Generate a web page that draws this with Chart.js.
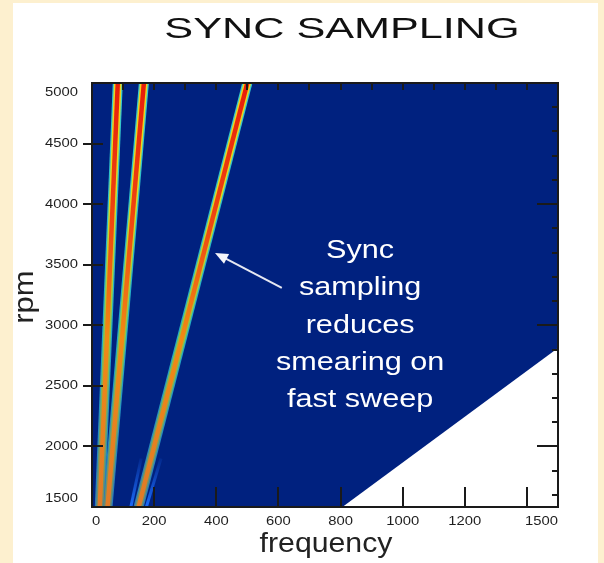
<!DOCTYPE html>
<html>
<head>
<meta charset="utf-8">
<script src="https://cdn.jsdelivr.net/npm/chart.js@4/dist/chart.umd.min.js"></script>
<style>
  html, body { margin: 0; padding: 0; background: #fdf0cf; width: 604px; height: 563px; overflow: hidden; }
  #panel { position: absolute; left: 13px; top: 3px; width: 585px; height: 560px; background: #fff; }
  canvas { display: block; }
</style>
</head>
<body>
<div id="panel"><canvas id="chart" width="585" height="560"></canvas></div>
<script>
// values
const rpmEnds = [1500, 5000];
const order1Freq = [25, 83];
const order2Freq = [50, 167];
const order6Freq = [150, 500];
const faintRpm = [1500, 1900];
const order5Freq = [125, 158];
const order7Freq = [175, 222];
const limitFreq = [0, 806, 1500];
const limitRpm = [1500, 1500, 2812];

const xTickLabels = [0, 200, 400, 600, 800, 1000, 1200, 1500];
const xMajorTicks = [200, 400, 600, 800, 1000, 1200, 1400];
const topMinorTicks = [100, 200, 300, 400, 500, 600, 700, 800, 900, 1000, 1100, 1200, 1300, 1400];
const yTickLabels = [1500, 2000, 2500, 3000, 3500, 4000, 4500, 5000];
const yMajorTicks = [2000, 2500, 3000, 3500, 4000, 4500];
const rightMinorTicks = [1600, 1800, 2000, 2200, 2400, 2600, 2800, 3000, 3200, 3400, 3600, 3800, 4000, 4200, 4400, 4600, 4800];
const rightMajorTicks = [2000, 3000, 4000];

const noteLines = ['Sync', 'sampling', 'reduces', 'smearing on', 'fast sweep'];
const noteAt = { x: 863, y: 3556 };
const arrowFrom = { x: 611, y: 3309 };
const arrowTo = { x: 396, y: 3597 };

function pts(xs, ys) {
  return xs.map((x, i) => ({ x: x, y: ys[i] }));
}

function vGrad(stops) {
  return function(context) {
    const ca = context.chart.chartArea;
    if (!ca) return stops[stops.length - 1][1];
    const g = context.chart.ctx.createLinearGradient(0, ca.bottom, 0, ca.top);
    stops.forEach(s => g.addColorStop(s[0], s[1]));
    return g;
  };
}

const edgeColor = vGrad([[0, '#2a78b8'], [0.4, '#22aac4'], [1, '#38cccc']]);
const midColor = vGrad([[0, '#6a8a70'], [0.4, '#8cc448'], [0.75, '#e0dc20'], [1, '#f4d018']]);
const coreColor = vGrad([[0, '#e07a28'], [0.4, '#f08a14'], [0.65, '#f04a10'], [1, '#e81c0a']]);
const faintColor = vGrad([[0, 'rgba(30,110,255,0.95)'], [0.13, 'rgba(30,110,255,0)'], [1, 'rgba(30,110,255,0)']]);

const orderSets = [order1Freq, order2Freq, order6Freq];
const layers = [
  { w: 10, c: edgeColor, o: 30 },
  { w: 7.5, c: midColor, o: 20 },
  { w: 4.5, c: coreColor, o: 10 }
];

const datasets = [{
  label: 'range',
  data: pts(limitFreq, limitRpm),
  borderWidth: 0,
  pointRadius: 0,
  backgroundColor: '#00217f',
  fill: 'end',
  order: 100
}];

[order5Freq, order7Freq].forEach(f => {
  datasets.push({
    data: pts(f, faintRpm),
    borderColor: faintColor,
    borderWidth: 3,
    pointRadius: 0,
    fill: false,
    order: 50
  });
});

layers.forEach(l => {
  orderSets.forEach(f => {
    datasets.push({
      data: pts(f, rpmEnds),
      borderColor: l.c,
      borderWidth: l.w,
      pointRadius: 0,
      fill: false,
      order: l.o
    });
  });
});

function stretchText(ctx, text, x, y, sx, align) {
  ctx.save();
  ctx.translate(x, y);
  ctx.scale(sx, 1);
  ctx.textAlign = align;
  ctx.fillText(text, 0, 0);
  ctx.restore();
}

const decor = {
  id: 'decor',
  afterDatasetsDraw(chart) {
    const ctx = chart.ctx;
    const ca = chart.chartArea;
    const xs = chart.scales.x, ys = chart.scales.y;

    // note arrow
    const fx = xs.getPixelForValue(arrowFrom.x), fy = ys.getPixelForValue(arrowFrom.y);
    const tx = xs.getPixelForValue(arrowTo.x), ty = ys.getPixelForValue(arrowTo.y);
    const ang = Math.atan2(ty - fy, tx - fx);
    ctx.save();
    ctx.strokeStyle = '#e6e8f2';
    ctx.fillStyle = '#f4f5fa';
    ctx.lineWidth = 2;
    ctx.beginPath();
    ctx.moveTo(fx, fy);
    ctx.lineTo(tx - 10 * Math.cos(ang), ty - 10 * Math.sin(ang));
    ctx.stroke();
    ctx.beginPath();
    ctx.moveTo(tx, ty);
    ctx.lineTo(tx - 13 * Math.cos(ang) + 5.5 * Math.sin(ang), ty - 13 * Math.sin(ang) - 5.5 * Math.cos(ang));
    ctx.lineTo(tx - 13 * Math.cos(ang) - 5.5 * Math.sin(ang), ty - 13 * Math.sin(ang) + 5.5 * Math.cos(ang));
    ctx.closePath();
    ctx.fill();

    // note text
    ctx.fillStyle = '#ffffff';
    ctx.font = '25.5px "Liberation Sans", Arial, sans-serif';
    ctx.textBaseline = 'alphabetic';
    const nx = xs.getPixelForValue(noteAt.x), ny = ys.getPixelForValue(noteAt.y);
    noteLines.forEach((t, i) => stretchText(ctx, t, nx, ny + i * 37.3, 1.2, 'center'));
    ctx.restore();

    // frame and ticks
    ctx.save();
    ctx.strokeStyle = '#1a1a1a';
    ctx.lineWidth = 2;
    ctx.strokeRect(ca.left, ca.top, ca.right - ca.left, ca.bottom - ca.top);
    ctx.beginPath();
    yMajorTicks.forEach(v => {
      const p = Math.round(ys.getPixelForValue(v));
      ctx.moveTo(ca.left - 9, p); ctx.lineTo(ca.left + 11, p);
    });
    xMajorTicks.forEach(v => {
      const p = Math.round(xs.getPixelForValue(v));
      ctx.moveTo(p, ca.bottom); ctx.lineTo(p, ca.bottom - 20);
    });
    topMinorTicks.forEach(v => {
      const p = Math.round(xs.getPixelForValue(v));
      ctx.moveTo(p, ca.top); ctx.lineTo(p, ca.top + 7);
    });
    rightMinorTicks.forEach(v => {
      const p = Math.round(ys.getPixelForValue(v));
      const len = rightMajorTicks.includes(v) ? 21 : 6;
      ctx.moveTo(ca.right, p); ctx.lineTo(ca.right - len, p);
    });
    ctx.stroke();

    // tick labels
    ctx.fillStyle = '#1e1e1e';
    ctx.font = '13px "Liberation Sans", Arial, sans-serif';
    ctx.textBaseline = 'middle';
    yTickLabels.forEach((v, i) => {
      let p = ys.getPixelForValue(v);
      if (i === 0) p -= 9;
      if (i === yTickLabels.length - 1) p += 9;
      stretchText(ctx, String(v), ca.left - 14, p, 1.14, 'right');
    });
    xTickLabels.forEach((v, i) => {
      const p = xs.getPixelForValue(v);
      let align = 'center';
      if (i === 0) align = 'left';
      if (i === xTickLabels.length - 1) align = 'right';
      stretchText(ctx, String(v), p, ca.bottom + 14, 1.14, align);
    });
    ctx.restore();
  },
  afterDraw(chart) {
    const ctx = chart.ctx;
    ctx.save();
    ctx.fillStyle = '#111';
    ctx.textBaseline = 'alphabetic';
    ctx.font = '30px "Liberation Sans", Arial, sans-serif';
    stretchText(ctx, 'SYNC SAMPLING', 329, 35, 1.44, 'center');
    ctx.fillStyle = '#222';
    ctx.font = '27px "Liberation Sans", Arial, sans-serif';
    stretchText(ctx, 'frequency', 313, 549, 1.12, 'center');
    ctx.save();
    ctx.translate(13, 294);
    ctx.rotate(-Math.PI / 2);
    ctx.textBaseline = 'middle';
    stretchText(ctx, 'rpm', 0, 0, 1.15, 'center');
    ctx.restore();
    ctx.restore();
  }
};

new Chart(document.getElementById('chart'), {
  type: 'line',
  data: { datasets: datasets },
  plugins: [decor],
  options: {
    responsive: false,
    animation: false,
    devicePixelRatio: 1,
    layout: { padding: { left: 79, top: 80, right: 40, bottom: 56 } },
    elements: { line: { tension: 0, borderCapStyle: 'butt' } },
    plugins: { legend: { display: false }, tooltip: { enabled: false }, title: { display: false } },
    scales: {
      x: { type: 'linear', min: 0, max: 1500, display: false },
      y: { type: 'linear', min: 1500, max: 5000, display: false }
    }
  }
});
</script>
</body>
</html>
